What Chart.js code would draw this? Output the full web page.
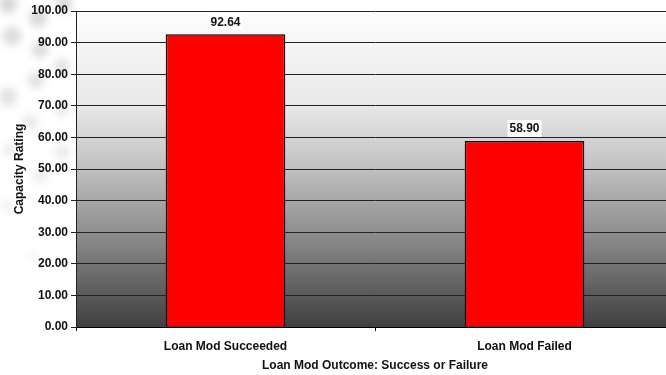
<!DOCTYPE html>
<html>
<head>
<meta charset="utf-8">
<script src="https://cdn.jsdelivr.net/npm/chart.js@4/dist/chart.umd.min.js"></script>
<style>
  html, body { margin: 0; padding: 0; background: #fff; }
  #wrap { width: 666px; height: 375px; overflow: hidden; position: relative; }
  #wrap canvas { position: absolute; left: 0; top: 0; }
</style>
</head>
<body>
<div id="wrap"><canvas id="chart" width="680" height="375"></canvas></div>
<script>
const categories = ["Loan Mod Succeeded", "Loan Mod Failed"];
const capacityRating = [92.64, 58.90];
const yTicks = [0, 10, 20, 30, 40, 50, 60, 70, 80, 90, 100];

const FONT = "'Liberation Sans', Arial, sans-serif";

// faint grey dots in the page corner
const dots = [
  [8, 4, 9], [38, 18, 9], [64, 4, 8], [12, 36, 9], [40, 50, 8],
  [8, 97, 9], [36, 80, 8], [62, 66, 7], [30, 122, 7], [62, 152, 7],
  [40, 176, 7], [8, 206, 6], [33, 256, 5], [62, 110, 6], [10, 150, 6]
];

const pageBackground = {
  id: 'pageBackground',
  beforeDraw(chart) {
    const ctx = chart.ctx;
    ctx.save();
    ctx.filter = 'blur(4px)';
    dots.forEach(([x, y, r]) => {
      const a = Math.max(0.04, 0.17 - y * 0.0005);
      ctx.fillStyle = `rgba(0,0,0,${a})`;
      ctx.beginPath();
      ctx.arc(x, y, r, 0, Math.PI * 2);
      ctx.fill();
    });
    ctx.restore();

    const a = chart.chartArea;
    const g = ctx.createLinearGradient(0, a.top, 0, a.bottom);
    g.addColorStop(0, '#fdfdfd');
    g.addColorStop(0.3, '#e8e8e8');
    g.addColorStop(0.5, '#c0c0c0');
    g.addColorStop(0.7, '#8e8e8e');
    g.addColorStop(1, '#404040');
    ctx.save();
    ctx.fillStyle = g;
    ctx.fillRect(a.left, a.top, a.right - a.left, a.bottom - a.top);
    ctx.restore();
  }
};

const valueLabels = {
  id: 'valueLabels',
  afterDatasetsDraw(chart) {
    const ctx = chart.ctx;
    const meta = chart.getDatasetMeta(0);
    ctx.save();
    ctx.font = 'bold 12px ' + FONT;
    ctx.textAlign = 'center';
    ctx.textBaseline = 'middle';
    meta.data.forEach((bar, i) => {
      const text = capacityRating[i].toFixed(2);
      const w = ctx.measureText(text).width + 4;
      const cy = bar.y - 12;
      ctx.fillStyle = '#ffffff';
      ctx.fillRect(bar.x - w / 2, cy - 9, w, 17);
      ctx.fillStyle = '#111111';
      ctx.fillText(text, bar.x, cy);
    });
    ctx.restore();
  }
};

new Chart(document.getElementById('chart'), {
  type: 'bar',
  data: {
    labels: categories,
    datasets: [{
      data: capacityRating,
      backgroundColor: '#ff0000',
      borderColor: '#000000',
      borderWidth: 1.5,
      borderSkipped: 'bottom',
      barPercentage: 0.4,
      categoryPercentage: 1
    }]
  },
  options: {
    responsive: false,
    animation: false,
    layout: { padding: { top: 11, right: 6, left: 0, bottom: 0 } },
    plugins: {
      legend: { display: false },
      tooltip: { enabled: false }
    },
    scales: {
      x: {
        afterFit(scale) { scale.height = 48; },
        grid: {
          offset: true,
          drawOnChartArea: false,
          tickLength: 4,
          color: '#000'
        },
        border: { color: '#000', width: 1 },
        ticks: {
          padding: 8,
          color: '#111',
          font: { family: FONT, size: 12, weight: 'bold' }
        },
        title: {
          display: true,
          text: 'Loan Mod Outcome: Success or Failure',
          color: '#111',
          padding: { top: 6, bottom: 2 },
          font: { family: FONT, size: 12, weight: 'bold' }
        }
      },
      y: {
        min: 0,
        max: 100,
        afterFit(scale) { scale.width = 76; },
        afterBuildTicks(scale) { scale.ticks = yTicks.map(v => ({ value: v })); },
        grid: {
          color: '#222',
          tickLength: 5,
          lineWidth: 1
        },
        border: { color: '#222', width: 1 },
        ticks: {
          padding: 3,
          color: '#111',
          font: { family: FONT, size: 12, weight: 'bold' },
          callback: v => v.toFixed(2)
        },
        title: {
          display: true,
          text: 'Capacity Rating',
          color: '#111',
          padding: { top: 12, bottom: 4 },
          font: { family: FONT, size: 12, weight: 'bold' }
        }
      }
    }
  },
  plugins: [pageBackground, valueLabels]
});
</script>
</body>
</html>
